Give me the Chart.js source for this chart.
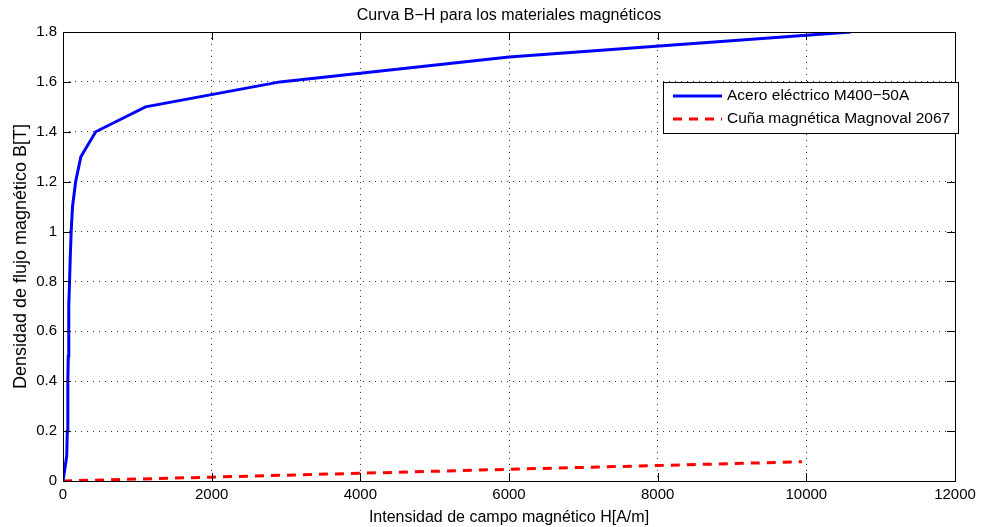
<!doctype html>
<html lang="es">
<head>
    <meta charset="UTF-8">
    <title>Curva B-H</title>
    <script src="https://cdn.jsdelivr.net/npm/chart.js"></script>
    <style>
        body { margin: 0; background: #fff; }
        #wrap { width: 984px; height: 527px; position: relative; }
    </style>
</head>
<body>
    <div id="wrap"><canvas id="bhChart" width="984" height="527"></canvas></div>
    <script>
        const chartTitle = 'Curva B\u2212H para los materiales magnéticos';
        const xTitle = 'Intensidad de campo magnético H[A/m]';
        const yTitle = 'Densidad de flujo magnético B[T]';

        // Acero eléctrico M400-50A
        const steelLabel = 'Acero eléctrico M400\u221250A';
        const steelH = [0, 50, 58, 63, 67, 71, 75, 80, 88, 98, 110, 128, 170, 240, 440, 1110, 2920, 6000, 10600];
        const steelB = [0, 0.1, 0.2, 0.3, 0.4, 0.5, 0.6, 0.7, 0.8, 0.9, 1.0, 1.1, 1.2, 1.3, 1.4, 1.5, 1.6, 1.7, 1.8];

        // Cuña magnética Magnoval 2067
        const wedgeLabel = 'Cuña magnética Magnoval 2067';
        const wedgeH = [0, 2000, 4000, 6000, 8000, 9940];
        const wedgeB = [0, 0.0155, 0.031, 0.047, 0.062, 0.077];

        const xTicks = [0, 2000, 4000, 6000, 8000, 10000, 12000];
        const yTicks = [0, 0.2, 0.4, 0.6, 0.8, 1, 1.2, 1.4, 1.6, 1.8];

        const font = 'Liberation Sans';

        function toPoints(xs, ys) {
            return xs.map((x, i) => ({ x: x, y: ys[i] }));
        }

        // box, inward ticks, title and legend like the original figure
        const figurePlugin = {
            id: 'figure',
            afterDraw(chart) {
                const ctx = chart.ctx;
                const a = chart.chartArea;
                const xs = chart.scales.x, ys = chart.scales.y;
                ctx.save();
                ctx.strokeStyle = '#000';
                ctx.lineWidth = 1;
                ctx.beginPath();
                xTicks.forEach(v => {
                    const px = Math.round(xs.getPixelForValue(v)) + 0.5;
                    ctx.moveTo(px, a.bottom); ctx.lineTo(px, a.bottom - 8);
                    ctx.moveTo(px, a.top); ctx.lineTo(px, a.top + 8);
                });
                yTicks.forEach(v => {
                    const py = Math.round(ys.getPixelForValue(v)) + 0.5;
                    ctx.moveTo(a.left, py); ctx.lineTo(a.left + 8, py);
                    ctx.moveTo(a.right, py); ctx.lineTo(a.right - 8, py);
                });
                ctx.stroke();
                ctx.strokeRect(Math.round(a.left) + 0.5, Math.round(a.top) + 0.5,
                    Math.round(a.right - a.left), Math.round(a.bottom - a.top));

                // title
                ctx.fillStyle = '#000';
                ctx.font = '16px "' + font + '"';
                ctx.textAlign = 'center';
                ctx.textBaseline = 'middle';
                ctx.fillText(chartTitle, (a.left + a.right) / 2, 16);

                // legend
                const lx = 663, ly = 82, lw = 295, lh = 51;
                ctx.fillStyle = '#fff';
                ctx.fillRect(lx, ly, lw, lh);
                ctx.strokeRect(lx + 0.5, ly + 0.5, lw, lh);
                const rows = [
                    { label: steelLabel, color: '#0000ff', dash: [] },
                    { label: wedgeLabel, color: '#ff0000', dash: [9, 7] }
                ];
                rows.forEach((r, i) => {
                    const y = ly + 14 + i * 23;
                    ctx.strokeStyle = r.color;
                    ctx.lineWidth = 3;
                    ctx.setLineDash(r.dash);
                    ctx.beginPath();
                    ctx.moveTo(673, y); ctx.lineTo(722, y);
                    ctx.stroke();
                    ctx.setLineDash([]);
                    ctx.fillStyle = '#000';
                    ctx.textAlign = 'left';
                    ctx.font = '15.5px "' + font + '"';
                    ctx.fillText(r.label, 727, y);
                });
                ctx.restore();
            }
        };

        const ctx = document.getElementById('bhChart').getContext('2d');
        new Chart(ctx, {
            type: 'scatter',
            data: {
                datasets: [{
                    label: steelLabel,
                    data: toPoints(steelH, steelB),
                    showLine: true,
                    borderColor: '#0000ff',
                    borderWidth: 3,
                    pointRadius: 0,
                    tension: 0
                }, {
                    label: wedgeLabel,
                    data: toPoints(wedgeH, wedgeB),
                    showLine: true,
                    borderColor: '#ff0000',
                    borderWidth: 3,
                    borderDash: [9, 7],
                    pointRadius: 0,
                    tension: 0
                }]
            },
            options: {
                responsive: false,
                animation: false,
                layout: { padding: { top: 32, right: 29, left: 0, bottom: 0 } },
                plugins: {
                    legend: { display: false },
                    title: { display: false },
                    tooltip: { enabled: false }
                },
                scales: {
                    x: {
                        type: 'linear',
                        min: 0, max: 12000,
                        afterBuildTicks: s => { s.ticks = xTicks.map(v => ({ value: v })); },
                        afterFit: s => { s.height = 46; },
                        ticks: {
                            color: '#000', padding: 5,
                            font: { family: font, size: 15 },
                            maxRotation: 0,
                            callback: v => String(v)
                        },
                        grid: { color: '#333', drawTicks: false },
                        // in v4 the grid lines take their dash from border.dash
                        border: { display: false, dash: [1, 5] },
                        title: {
                            display: true, text: xTitle, color: '#000',
                            font: { family: font, size: 16 }, padding: { top: 1, bottom: 0 }
                        }
                    },
                    y: {
                        type: 'linear',
                        min: 0, max: 1.8,
                        afterBuildTicks: s => { s.ticks = yTicks.map(v => ({ value: v })); },
                        afterFit: s => { s.width = 63; },
                        ticks: {
                            color: '#000', padding: 6,
                            font: { family: font, size: 15 },
                            callback: v => String(Math.round(v * 10) / 10)
                        },
                        grid: { color: '#333', drawTicks: false },
                        border: { display: false, dash: [1, 5] },
                        title: {
                            display: true, text: yTitle, color: '#000',
                            font: { family: font, size: 18 }, padding: { top: 10, bottom: 4 }
                        }
                    }
                }
            },
            plugins: [figurePlugin]
        });
    </script>
</body>
</html>
